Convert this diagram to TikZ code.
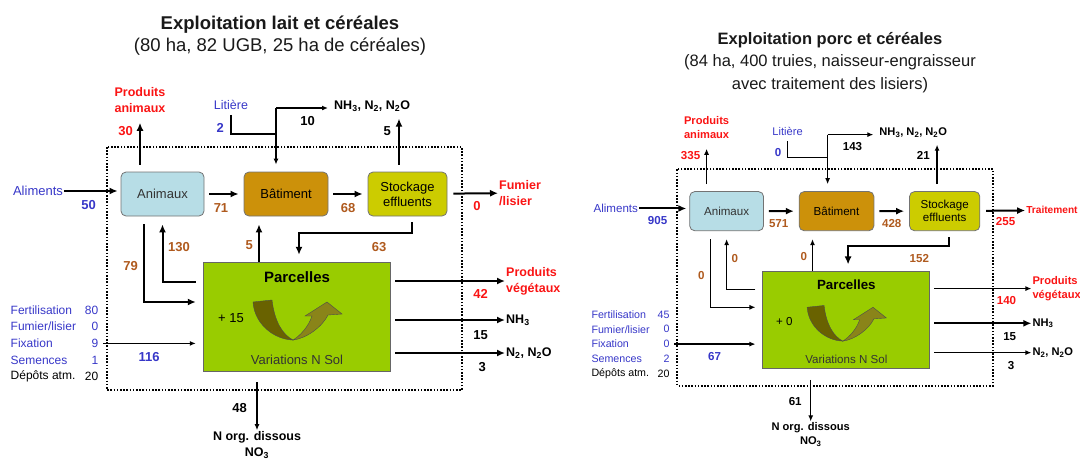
\documentclass[tikz,border=0pt]{standalone}
\usepackage{fontspec}
\setmainfont{Liberation Sans}
\usetikzlibrary{arrows.meta}

\definecolor{bleu}{RGB}{55,55,200}
\definecolor{rouge}{RGB}{250,20,20}
\definecolor{brun}{RGB}{175,90,30}
\definecolor{fondanimaux}{RGB}{183,221,230}
\definecolor{fondbatiment}{RGB}{204,145,10}
\definecolor{fondstockage}{RGB}{204,204,0}
\definecolor{vertparc}{RGB}{153,204,0}
\definecolor{olivesombre}{RGB}{105,98,0}
\definecolor{oliveclair}{RGB}{138,132,25}

\begin{document}
\begin{tikzpicture}[
  x=1pt, y=-1pt,
  lbl/.style={inner sep=1pt, align=center, font=\fontsize{13}{15}\selectfont},
  val/.style={inner sep=1pt, font=\bfseries\fontsize{13}{15}\selectfont},
  gaz/.style={inner sep=1pt, align=center, font=\bfseries\fontsize{12.5}{16}\selectfont},
  sortie/.style={inner sep=1pt, align=left, text=rouge, font=\bfseries\fontsize{12.5}{16}\selectfont},
  entree/.style={inner sep=0.5pt, font=\fontsize{12}{14}\selectfont},
  boite/.style={draw=black!55, line width=0.8pt, rounded corners=5pt, minimum height=44pt, align=center, inner sep=1pt, font=\fontsize{13}{15}\selectfont},
  parcelle/.style={draw=black!60, fill=vertparc, minimum width=187pt, minimum height=109pt},
  cadre/.style={line width=1.8pt, dash pattern=on 1.6pt off 1.6pt},
  fleche/.style={-{Latex[length=8pt,width=7pt]}, line width=2pt},
  fine/.style={-{Latex[length=6pt,width=5pt]}, line width=1.3pt},
  trait/.style={line width=1.3pt},
  titre/.style={align=center, text=black!90},
  pics/retour/.style={code={
    \filldraw[fill=olivesombre, draw=black!70, line width=0.4pt]
      (-43.5,-14.5) .. controls (-42,8) and (-22,23) .. (-3.5,23.5)
      .. controls (-14,18) and (-22,5) .. (-24.5,-16.5) -- cycle;
    \filldraw[fill=oliveclair, draw=black!70, line width=0.4pt]
      (-3.5,23.5) .. controls (10,22) and (26,10) .. (31.5,-1.5) -- (45.5,-2.5) -- (30.5,-14.5)
      -- (8.5,-0.5) -- (15.5,-0.5) .. controls (12,10) and (4,19) .. (-3.5,23.5) -- cycle;
  }}
]
  \useasboundingbox (0,0) rectangle (1080,459);

  % Titres
  \node[titre, font=\fontsize{18.5}{22}\selectfont] (titreLait) at (280,36)
    {\textbf{Exploitation lait et céréales}\\(80 ha, 82 UGB, 25 ha de céréales)};
  \node[titre, font=\fontsize{16.5}{22.5}\selectfont] (titrePorc) at (830,62.5)
    {\textbf{Exploitation porc et céréales}\\(84 ha, 400 truies, naisseur-engraisseur\\avec traitement des lisiers)};

  %%%% Exploitation lait et cereales
  \begin{scope}[name prefix=lait-]
    \draw[cadre] (107,147) rectangle (462,390);

    % Compartiments
    \node[boite, fill=fondanimaux, text=black!80, minimum width=83pt] (anim) at (162.5,194) {Animaux};
    \node[boite, fill=fondbatiment, minimum width=84pt] (bat) at (286,194) {Bâtiment};
    \node[boite, fill=fondstockage, minimum width=79pt] (stock) at (407.5,194) {Stockage\\effluents};
    \node[parcelle] (parc) at (296.5,316.5) {};
    \node[font=\bfseries\fontsize{15}{18}\selectfont] (nomParc) at (297,277) {Parcelles};
    \node[lbl, text=black!80] (varSol) at (297,360) {Variations N Sol};
    \node[lbl, anchor=west] (delta) at (217,318) {+ 15};
    \pic at (parc) {retour};

    % Entrees et sorties
    \node[lbl, text=bleu] (ali) at (38,191) {Aliments};
    \node[sortie, align=center] (prodA) at (140,100) {Produits\\animaux};
    \node[lbl, text=bleu, font=\fontsize{12.5}{15}\selectfont] (lit) at (231,105) {Litière};
    \node[gaz, anchor=west] (gz) at (333,106) {NH\textsubscript{3}, N\textsubscript{2}, N\textsubscript{2}O};
    \node[sortie, anchor=west] (fum) at (498,193) {Fumier\\/lisier};
    \node[sortie, anchor=west] (prodV) at (505,281) {Produits\\végétaux};
    \node[gaz, anchor=west] (nh3) at (505,320) {NH\textsubscript{3}};
    \node[gaz, anchor=west] (n2) at (505,353) {N\textsubscript{2}, N\textsubscript{2}O};
    \node[gaz] (norg) at (257,445) {N org. dissous\\NO\textsubscript{3}};
    \foreach \nom/\nb/\coul [count=\k] in {Fertilisation/80/bleu, {Fumier/lisier}/0/bleu,
        Fixation/9/bleu, Semences/1/bleu, {Dépôts atm.}/20/black} {
      \node[entree, text=\coul, anchor=west] (e\k) at (10,293.3+16.7*\k) {\nom};
      \node[entree, text=\coul, anchor=east] (v\k) at (99,293.3+16.7*\k) {\nb};
    }
    \coordinate (gasJ) at (276,108);
    \coordinate (litJ) at (276,134);

    % Flux
    \draw[fleche, shorten >=3pt] (ali.east) -- (ali.east -| anim.west);
    \draw[fleche, shorten <=5pt, shorten >=5pt] (anim) -- (bat);
    \draw[fleche, shorten <=5pt, shorten >=5pt] (bat) -- (stock);
    \draw[fleche, shorten <=6pt] (stock) -- (fum);
    \draw[fleche, shorten <=7pt, shorten >=9pt] (prodA.south |- anim.north) -- (prodA.south);
    \draw[trait, shorten <=4pt] (lit.south) |- (litJ);
    \draw[fine, shorten >=7pt] (gasJ) -- (gasJ |- bat.north);
    \draw[fine, shorten >=5pt] (gasJ) -- (gasJ -| gz.west);
    \draw[fleche, shorten <=7pt, shorten >=6pt] ([xshift=-8.5pt]stock.north) -- ([xshift=-8.5pt]stock.north |- gz.south);
    \draw[fleche, shorten <=6pt, shorten >=7pt] ([xshift=4.5pt]stock.south) -- ++(0,17) -| ([xshift=2.5pt]parc.north);
    \draw[fleche, shorten >=8pt] ([xshift=-27pt]bat.south |- parc.north) -- ([xshift=-27pt]bat.south);
    \draw[fleche, shorten <=8pt, shorten >=7pt] ([xshift=-18.5pt]anim.south) |- ([yshift=14.5pt]parc.west);
    \draw[fleche, shorten <=7pt, shorten >=8pt] ([yshift=34.5pt]parc.west) -| (anim.south);
    \draw[fine, shorten <=4pt, shorten >=7pt] (v3.east) -- (v3.east -| parc.west);
    \draw[fleche, shorten <=5pt] (parc.east |- prodV.west) -- (prodV.west);
    \draw[fleche, line width=2.6pt, shorten <=5pt] (parc.east |- nh3.west) -- (nh3.west);
    \draw[fleche, shorten <=5pt] (parc.east |- n2.west) -- (n2.west);
    \draw[fine, shorten <=11pt] (parc.south -| norg.north) -- (norg.north);

    % Valeurs
    \node[val, text=bleu, anchor=east] (nAli) at (97,205) {50};
    \node[val, text=brun] (nAB) at (221,208) {71};
    \node[val, text=brun] (nBS) at (348,208) {68};
    \node[val, text=rouge] (nOut) at (477,206) {0};
    \node[val, text=rouge, anchor=east] (nProdA) at (134,131) {30};
    \node[val, text=bleu, anchor=east] (nLit) at (225,128) {2};
    \node[val, anchor=east] (nGazB) at (316,121) {10};
    \node[val, anchor=east] (nGazS) at (392,131) {5};
    \node[val, text=brun] (nSP) at (379,247) {63};
    \node[val, text=brun, anchor=east] (nPB) at (254,245) {5};
    \node[val, text=brun, anchor=east] (nAP) at (139,266) {79};
    \node[val, text=brun, anchor=west] (nPA) at (167,247) {130};
    \node[val, text=bleu] (nIn) at (149,357) {116};
    \node[val, text=rouge, anchor=east] (nVeg) at (489,294) {42};
    \node[val, anchor=east] (nNH3) at (489,335) {15};
    \node[val, anchor=east] (nN2) at (487,367) {3};
    \node[val, anchor=east] (nLess) at (248,408) {48};
  \end{scope}

  %%%% Exploitation porc et cereales
  \begin{scope}[shift={(582,38.5)}, scale=0.89, transform shape, name prefix=porc-]
    \draw[cadre] (107,147) rectangle (462,390);

    % Compartiments
    \node[boite, fill=fondanimaux, text=black!80, minimum width=83pt] (anim) at (162.5,194) {Animaux};
    \node[boite, fill=fondbatiment, minimum width=84pt] (bat) at (286,194) {Bâtiment};
    \node[boite, fill=fondstockage, minimum width=79pt] (stock) at (407.5,194) {Stockage\\effluents};
    \node[parcelle] (parc) at (296.5,316.5) {};
    \node[font=\bfseries\fontsize{15}{18}\selectfont] (nomParc) at (297,277) {Parcelles};
    \node[lbl, text=black!80] (varSol) at (297,360) {Variations N Sol};
    \node[lbl, anchor=west] (delta) at (217,318) {+ 0};
    \pic at (parc) {retour};

    % Entrees et sorties
    \node[lbl, text=bleu] (ali) at (38,191) {Aliments};
    \node[sortie, align=center] (prodA) at (140,100) {Produits\\animaux};
    \node[lbl, text=bleu, font=\fontsize{12.5}{15}\selectfont] (lit) at (231,105) {Litière};
    \node[gaz, anchor=west] (gz) at (333,106) {NH\textsubscript{3}, N\textsubscript{2}, N\textsubscript{2}O};
    \node[sortie, anchor=west, font=\bfseries\fontsize{11.4}{16}\selectfont] (trait) at (498,193) {Traitement};
    \node[sortie, anchor=west] (prodV) at (505,281) {Produits\\végétaux};
    \node[gaz, anchor=west] (nh3) at (505,320) {NH\textsubscript{3}};
    \node[gaz, anchor=west] (n2) at (505,353) {N\textsubscript{2}, N\textsubscript{2}O};
    \node[gaz] (norg) at (257,445) {N org. dissous\\NO\textsubscript{3}};
    \foreach \nom/\nb/\coul [count=\k] in {Fertilisation/45/bleu, {Fumier/lisier}/0/bleu,
        Fixation/0/bleu, Semences/2/bleu, {Dépôts atm.}/20/black} {
      \node[entree, text=\coul, anchor=west] (e\k) at (10,293.3+16.7*\k) {\nom};
      \node[entree, text=\coul, anchor=east] (v\k) at (99,293.3+16.7*\k) {\nb};
    }
    \coordinate (gasJ) at (276,108);
    \coordinate (litJ) at (276,134);

    % Flux
    \draw[fleche, shorten >=3pt] (ali.east) -- (ali.east -| anim.west);
    \draw[fleche, shorten <=5pt, shorten >=5pt] (anim) -- (bat);
    \draw[fleche, shorten <=5pt, shorten >=5pt] (bat) -- (stock);
    \draw[fleche, shorten <=6pt] (stock) -- (trait);
    \draw[fine, shorten <=7pt, shorten >=9pt] (prodA.south |- anim.north) -- (prodA.south);
    \draw[trait, shorten <=4pt] (lit.south) |- (litJ);
    \draw[fine, shorten >=7pt] (gasJ) -- (gasJ |- bat.north);
    \draw[fine, shorten >=5pt] (gasJ) -- (gasJ -| gz.west);
    \draw[fine, shorten <=7pt, shorten >=6pt] ([xshift=-8.5pt]stock.north) -- ([xshift=-8.5pt]stock.north |- gz.south);
    \draw[fleche, shorten <=6pt, shorten >=7pt] ([xshift=4.5pt]stock.south) -- ++(0,17) -| ([xshift=2.5pt]parc.north);
    \draw[fine, shorten >=8pt] ([xshift=-27pt]bat.south |- parc.north) -- ([xshift=-27pt]bat.south);
    \draw[fine, shorten <=8pt, shorten >=7pt] ([xshift=-18.5pt]anim.south) |- ([yshift=14.5pt]parc.west);
    \draw[fine, shorten <=7pt, shorten >=8pt] ([yshift=34.5pt]parc.west) -| (anim.south);
    \draw[fine, shorten <=4pt, shorten >=7pt] (v3.east) -- (v3.east -| parc.west);
    \draw[fine, shorten <=5pt] (parc.east |- prodV.west) -- (prodV.west);
    \draw[fleche, shorten <=5pt] (parc.east |- nh3.west) -- (nh3.west);
    \draw[fine, shorten <=5pt] (parc.east |- n2.west) -- (n2.west);
    \draw[fine, shorten <=11pt] (parc.south -| norg.north) -- (norg.north);

    % Valeurs
    \node[val, text=bleu, anchor=east] (nAli) at (97,205) {905};
    \node[val, text=brun] (nAB) at (221,208) {571};
    \node[val, text=brun] (nBS) at (348,208) {428};
    \node[val, text=rouge] (nOut) at (476,206) {255};
    \node[val, text=rouge, anchor=east] (nProdA) at (134,131) {335};
    \node[val, text=bleu, anchor=east] (nLit) at (225,128) {0};
    \node[val, anchor=east] (nGazB) at (316,121) {143};
    \node[val, anchor=east] (nGazS) at (392,131) {21};
    \node[val, text=brun] (nSP) at (379,247) {152};
    \node[val, text=brun, anchor=east] (nPB) at (254,245) {0};
    \node[val, text=brun, anchor=east] (nAP) at (139,266) {0};
    \node[val, text=brun, anchor=west] (nPA) at (167,247) {0};
    \node[val, text=bleu] (nIn) at (149,357) {67};
    \node[val, text=rouge, anchor=east] (nVeg) at (489,294) {140};
    \node[val, anchor=east] (nNH3) at (489,335) {15};
    \node[val, anchor=east] (nN2) at (487,367) {3};
    \node[val, anchor=east] (nLess) at (248,408) {61};
  \end{scope}
\end{tikzpicture}
\end{document}
